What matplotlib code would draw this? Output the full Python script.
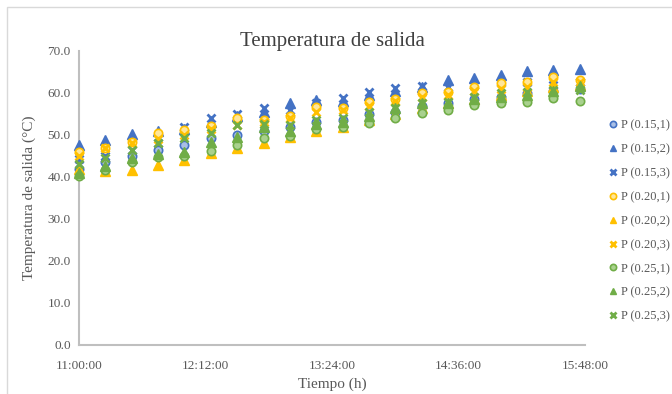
import matplotlib
matplotlib.use("Agg")
import matplotlib.pyplot as plt
from matplotlib.patches import Rectangle

# minutes after 11:00, one reading every 15 min
minutes = [0, 15, 30, 45, 60, 75, 90, 105, 120, 135,
           150, 165, 180, 195, 210, 225, 240, 255, 270, 285]
tick_pos = [0, 72, 144, 216, 288]
tick_labels = ["11:00:00", "12:12:00", "13:24:00", "14:36:00", "15:48:00"]

p015_1 = [42.0, 43.5, 45.0, 46.4, 47.6, 49.3, 50.0, 51.0, 52.0, 53.0,
          53.5, 55.0, 55.5, 57.0, 57.5, 58.5, 59.0, 60.0, 60.5, 61.0]
p015_2 = [47.6, 48.8, 50.2, 51.0, 51.5, 53.0, 54.5, 55.5, 57.6, 58.3,
          58.0, 59.5, 60.5, 61.5, 63.1, 63.6, 64.3, 65.2, 65.5, 65.7]
p015_3 = [44.3, 45.0, 46.5, 48.0, 51.9, 54.0, 55.0, 56.4, 56.0, 57.5,
          58.8, 60.2, 61.2, 61.7, 61.5, 62.0, 62.5, 62.5, 61.9, 62.5]
p020_1 = [46.0, 47.0, 48.3, 50.5, 51.2, 52.1, 54.0, 53.6, 54.5, 56.7,
          56.4, 57.9, 58.6, 60.0, 60.2, 61.4, 62.4, 62.6, 63.8, 63.1]
p020_2 = [42.0, 41.5, 41.6, 42.9, 44.0, 45.7, 47.0, 48.1, 49.5, 51.0,
          52.0, 53.5, 55.0, 56.5, 57.5, 58.5, 59.5, 60.5, 61.5, 62.0]
p020_3 = [45.0, 47.0, 48.0, 49.0, 50.0, 51.5, 52.4, 53.0, 54.0, 55.5,
          56.0, 57.0, 58.0, 59.0, 59.5, 60.5, 61.0, 61.5, 62.5, 62.5]
p025_1 = [40.2, 41.7, 43.6, 44.8, 45.0, 46.2, 47.6, 49.3, 49.8, 51.4,
          51.9, 52.9, 54.0, 55.2, 56.0, 57.1, 57.6, 57.9, 58.8, 58.1]
p025_2 = [41.0, 42.5, 44.5, 45.5, 46.0, 48.3, 49.5, 51.9, 51.0, 52.5,
          53.0, 54.5, 56.4, 57.6, 57.5, 58.5, 59.0, 59.5, 60.5, 61.7]
p025_3 = [43.0, 44.5, 46.4, 48.1, 49.3, 50.5, 52.4, 52.5, 52.4, 53.6,
          54.0, 55.5, 56.5, 57.5, 57.9, 59.0, 60.0, 60.2, 60.7, 60.7]

labels = ["P (0.15,1)", "P (0.15,2)", "P (0.15,3)",
          "P (0.20,1)", "P (0.20,2)", "P (0.20,3)",
          "P (0.25,1)", "P (0.25,2)", "P (0.25,3)"]
series = [p015_1, p015_2, p015_3, p020_1, p020_2, p020_3, p025_1, p025_2, p025_3]

blue, orange, green = "#4472C4", "#FFC000", "#70AD47"
light = {blue: "#A9BFE6", orange: "#FFE699", green: "#A9D18E"}
colors = [blue] * 3 + [orange] * 3 + [green] * 3

plt.rcParams["font.family"] = ["Liberation Serif", "DejaVu Serif"]

fig = plt.figure(figsize=(6.72, 3.94), dpi=100)
ax = fig.add_axes([0.1176, 0.1244, 0.753, 0.7462])

for i, (vals, lab) in enumerate(zip(series, labels)):
    c = colors[i]
    kind = i % 3
    if kind == 0:
        ax.plot(minutes, vals, ls="none", marker="o", ms=6, mfc=light[c],
                mec=c, mew=1.2, label=lab, clip_on=False)
    elif kind == 1:
        ax.plot(minutes, vals, ls="none", marker="^", ms=6.5, mfc=c,
                mec=c, label=lab, clip_on=False)
    else:
        ax.plot(minutes, vals, ls="none", marker="x", ms=5.5, mec=c,
                mew=2, label=lab, clip_on=False)

ax.set_xlim(0, 288)
ax.set_ylim(0, 70)
ax.set_xticks(tick_pos)
ax.set_xticklabels(tick_labels)
ax.set_yticks(range(0, 71, 10))
ax.set_yticklabels([f"{v:.1f}" for v in range(0, 71, 10)])
ax.tick_params(colors="#595959", labelsize=9.5, length=0)
ax.tick_params(axis="x", pad=11)
ax.tick_params(axis="y", pad=6)
for s in ["top", "right"]:
    ax.spines[s].set_visible(False)
for s in ["left", "bottom"]:
    ax.spines[s].set_color("#BFBFBF")
    ax.spines[s].set_linewidth(1.5)
    ax.spines[s].set_zorder(0)

ax.set_title("Temperatura de salida", fontsize=15, color="#404040", pad=3)
ax.set_xlabel("Tiempo (h)", fontsize=11, color="#595959", labelpad=4)
ax.set_ylabel("Temperatura de salida (°C)", fontsize=11, color="#595959", labelpad=8)

fig.legend(loc="upper left", bbox_to_anchor=(0.885, 0.725), frameon=False,
           fontsize=9, labelcolor="#595959", handletextpad=0.0,
           handlelength=1.2, labelspacing=0.95, markerscale=0.75)

fig.patches.append(Rectangle((0.011, -0.05), 1.2, 1.032, transform=fig.transFigure,
                             fill=False, ec="#D9D9D9", lw=1))

plt.savefig("out.png", dpi=100)
